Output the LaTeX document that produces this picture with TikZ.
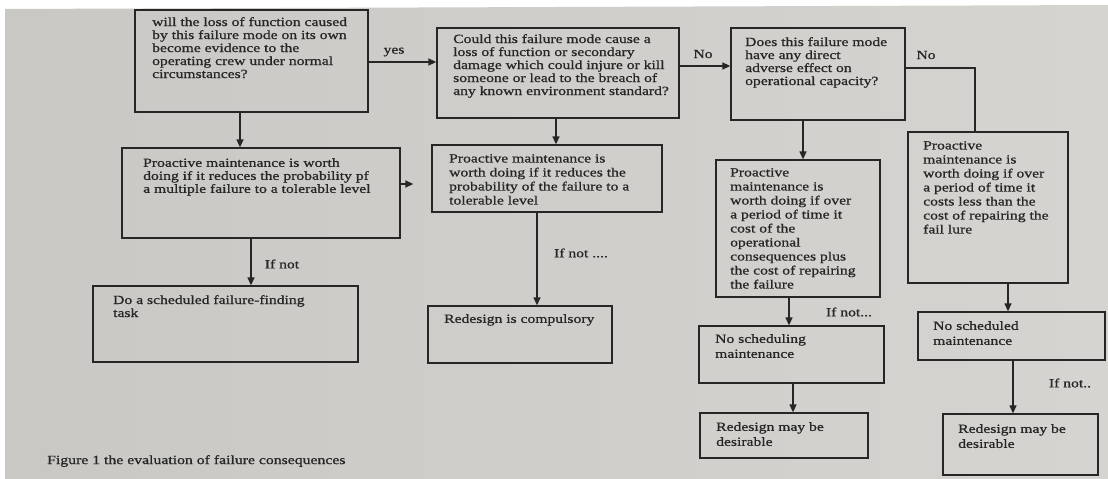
\documentclass[tikz,border=0pt]{standalone}
\usepackage{fontspec}
\setmainfont[FakeStretch=1.25,FakeBold=0.9]{Liberation Serif}
\usetikzlibrary{arrows.meta,fit}
\definecolor{ink}{HTML}{262626}
\definecolor{paperL}{HTML}{CAC8C5}
\definecolor{paperR}{HTML}{D6D4D1}
\newcommand{\fsz}[2]{\fontsize{#1}{#2}\selectfont}
\tikzset{
  box/.style={draw=ink, line width=1.3pt, inner sep=0pt},
  txt/.style={anchor=north west, inner sep=0pt, align=left, text=ink, font=\fsz{12.5}{13}},
  txtb/.style={txt, font=\fsz{12.5}{14}},
  txtc/.style={txt, font=\fsz{12.5}{15}},
  lbl/.style={inner sep=0pt, text=ink, font=\fsz{12.5}{13}},
  conn/.style={draw=ink, line width=1.3pt},
  arr/.style={conn, -{Triangle[length=8pt,width=7pt]}}
}
\begin{document}
\begin{tikzpicture}[x=1pt,y=-1pt]
\useasboundingbox (0,0) rectangle (1108,479);
\fill[white] (0,0) rectangle (1108,479);
\shade[left color=paperL, right color=paperR] (5,9) -- (1108,5) -- (1108,479) -- (5,479) -- cycle;

% column / row coordinates
\coordinate (c1) at (240,0);
\coordinate (c2) at (251,0);
\coordinate (c3) at (556,0);
\coordinate (c4) at (537,0);
\coordinate (c5) at (803,0);
\coordinate (c6) at (789,0);
\coordinate (c7) at (793,0);
\coordinate (c8) at (975,0);
\coordinate (c9) at (1008,0);
\coordinate (c10) at (1013,0);
\coordinate (r1) at (0,62);
\coordinate (r2) at (0,66);
\coordinate (r3) at (0,68);
\coordinate (r4) at (0,184);

% boxes
\node[box, fit={(135,10) (368,112)}] (q1) {};
\node[box, fit={(437,28) (679,118)}] (q2) {};
\node[box, fit={(731,28) (905,120)}] (q3) {};
\node[box, fit={(122,148) (400,238)}] (p1) {};
\node[box, fit={(432,145) (662,212)}] (p2) {};
\node[box, fit={(93,286) (358,362)}] (d1) {};
\node[box, fit={(428,306) (612,363)}] (r2box) {};
\node[box, fit={(716,160) (880,297)}] (p3) {};
\node[box, fit={(908,132) (1068,283)}] (p4) {};
\node[box, fit={(699,326) (884,383)}] (n3) {};
\node[box, fit={(700,413) (868,458)}] (rd3) {};
\node[box, fit={(918,312) (1105,360)}] (n4) {};
\node[box, fit={(943,414) (1098,475)}] (rd4) {};

% texts
\node[txt] (q1t) at (152,17) {will the loss of function caused\\by this failure mode on its own\\become evidence to the\\operating crew under normal\\circumstances?};
\node[txt] (q2t) at (453,34) {Could this failure mode cause a\\loss of function or secondary\\damage which could injure or kill\\someone or lead to the breach of\\any known environment standard?};
\node[txt] (q3t) at (745,37) {Does this failure mode\\have any direct\\adverse effect on\\operational capacity?};
\node[txt] (p1t) at (143,158) {Proactive maintenance is worth\\doing if it reduces the probability pf\\a multiple failure to a tolerable level};
\node[txtb] (p2t) at (449,154) {Proactive maintenance is\\worth doing if it reduces the\\probability of the failure to a\\tolerable level};
\node[txt] (d1t) at (113,295) {Do a scheduled failure-finding\\task};
\node[txt] (r2t) at (444,314) {Redesign is compulsory};
\node[txtb] (p3t) at (730,168) {Proactive\\maintenance is\\worth doing if over\\a period of time it\\cost of the\\operational\\consequences plus\\the cost of repairing\\the failure};
\node[txtb] (p4t) at (923,141) {Proactive\\maintenance is\\worth doing if over\\a period of time it\\costs less than the\\cost of repairing the\\fail lure};
\node[txtc] (n3t) at (715,334) {No scheduling\\maintenance};
\node[txtc] (rd3t) at (716,422) {Redesign may be\\desirable};
\node[txtc] (n4t) at (933,321) {No scheduled\\maintenance};
\node[txtc] (rd4t) at (958,424) {Redesign may be\\desirable};

% connectors
\draw[arr] (q1.east |- r1) -- (q2.west |- r1);
\draw[arr] (q2.east |- r2) -- (q3.west |- r2);
\draw[conn] (q3.east |- r3) -| (p4.north -| c8);
\draw[arr] (q1.south -| c1) -- (p1.north -| c1);
\draw[arr, shorten >=18pt] (p1.east |- r4) -- (p2.west |- r4);
\draw[arr] (q2.south -| c3) -- (p2.north -| c3);
\draw[arr] (p1.south -| c2) -- (d1.north -| c2);
\draw[arr] (p2.south -| c4) -- (r2box.north -| c4);
\draw[arr] (q3.south -| c5) -- (p3.north -| c5);
\draw[arr] (p3.south -| c6) -- (n3.north -| c6);
\draw[arr] (n3.south -| c7) -- (rd3.north -| c7);
\draw[arr] (p4.south -| c9) -- (n4.north -| c9);
\draw[arr] (n4.south -| c10) -- (rd4.north -| c10);

% labels
\node[lbl] (yes) at (394,52) {yes};
\node[lbl] (no1) at (703,54) {No};
\node[lbl] (no2) at (926,55) {No};
\node[lbl] (ifn1) at (282,264) {If not};
\node[lbl] (ifn2) at (581,253) {If not ....};
\node[lbl] (ifn3) at (849,312) {If not...};
\node[lbl] (ifn4) at (1070,383) {If not..};

% caption
\node[lbl, anchor=west, font=\fsz{12.6}{15}] (cap) at (47,461) {Figure 1 the evaluation of failure consequences};
\end{tikzpicture}
\end{document}
